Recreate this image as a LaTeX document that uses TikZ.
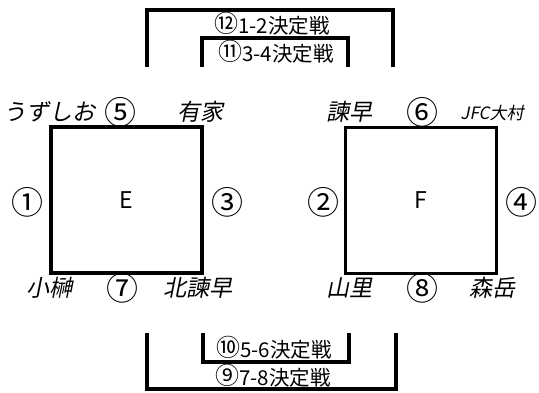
\documentclass[tikz,border=0pt]{standalone}
\usepackage{fontspec}
\setmainfont{Noto Sans CJK JP}
\newfontfamily\teamfont[FakeSlant=0.2]{Noto Sans CJK JP}
\newcommand{\circnum}[1]{{\fontsize{24}{20}\selectfont\raisebox{1pt}{#1}}}
\usetikzlibrary{positioning}

\begin{document}
\begin{tikzpicture}[x=1pt,y=-1pt,
        grp/.style={draw,line width=3.2pt,minimum width=151pt,minimum height=146pt,inner sep=0pt,font=\fontsize{23}{23}\selectfont},
        team/.style={inner sep=0pt,font=\teamfont\fontsize{23}{23}\selectfont},
        num/.style={inner sep=0pt,font=\fontsize{32}{32}\selectfont},
        match/.style={inner sep=0pt,font=\fontsize{20.5}{20}\selectfont},
        bracket/.style={line width=3.2pt}]
        \useasboundingbox[fill=white] (0,0) rectangle (539,392);
        % groups
        \node[grp](grpE) at (126.5,200){E};
        \node[grp](grpF) at (421,200.5){F};
        % group E
        \node[team](ezuz) at (50,112){うずしお};
        \node[team](earie) at (200,112){有家};
        \node[team](ekos) at (50,288){小榊};
        \node[team](ekita) at (198,288){北諫早};
        \node[num](n1) at (28,202){①};
        \node[num](n3) at (227,202){③};
        \node[num](n5) at (120,112){⑤};
        \node[num](n7) at (122,288){⑦};
        % group F
        \node[team](fisa) at (349,112){諫早};
        \node[team,font=\teamfont\fontsize{17}{17}\selectfont](fjfc) at (492,113){JFC大村};
        \node[team](fyama) at (349,288){山里};
        \node[team](fmori) at (492,288){森岳};
        \node[num](n2) at (323,202){②};
        \node[num](n4) at (521,202){④};
        \node[num](n6) at (422,112){⑥};
        \node[num](n8) at (422,288){⑧};
        % placement matches
        \node[match](m12) at (272,24){\circnum{⑫}1-2決定戦};
        \node[match](m11) at (276,52){\circnum{⑪}3-4決定戦};
        \node[match](m10) at (274,348){\circnum{⑩}5-6決定戦};
        \node[match](m9) at (273,376){\circnum{⑨}7-8決定戦};
        \draw[bracket] (147,67) -- (147,10) -- (393,10) -- (393,67);
        \draw[bracket] (202,67) -- (202,38) -- (348,38) -- (348,67);
        \draw[bracket] (203,333) -- (203,362) -- (349,362) -- (349,333);
        \draw[bracket] (147,333) -- (147,389) -- (396,389) -- (396,333);
\end{tikzpicture}
\end{document}
